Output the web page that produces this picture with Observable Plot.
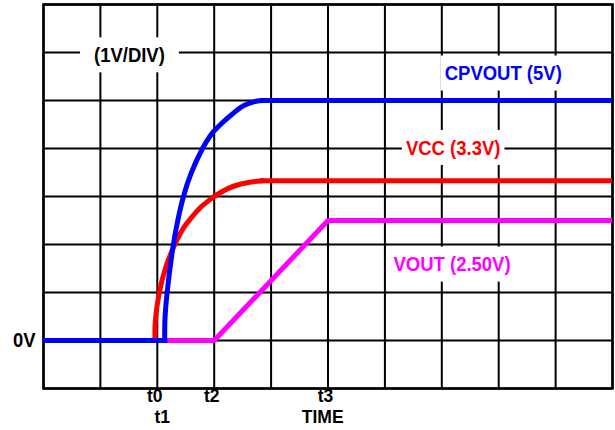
<!DOCTYPE html>
<html><head><meta charset="utf-8">
<script src="https://cdn.jsdelivr.net/npm/d3@7"></script>
<script src="https://cdn.jsdelivr.net/npm/@observablehq/plot@0.6"></script>
<style>html,body{margin:0;padding:0;background:#fff;}</style>
</head><body><div id="chart"></div>
<script>
// Grid: time in divisions, voltage in volts (1V/DIV)
const gridTimes = [0, 1, 2, 3, 4, 5, 6, 7, 8, 9, 10];
const gridVolts = [-1, 0, 1, 2, 3, 4, 5, 6, 7];

// CPVOUT (5V): flat, rise, flat
const cpvoutTime = [0, 2.13, 2.135, 2.17, 2.28, 2.36, 2.46, 2.59, 2.79, 2.96, 3.12, 3.32, 3.53, 3.76, 3.85, 10];
const cpvoutVolt = [0, 0, 0.45, 0.97, 1.98, 2.5, 3.0, 3.47, 3.99, 4.31, 4.51, 4.72, 4.90, 4.99, 5, 5];

// VCC (3.3V): flat, rise, flat
const vccTime = [0, 1.96, 1.965, 2.03, 2.15, 2.30, 2.47, 2.60, 2.75, 2.92, 3.05, 3.25, 3.47, 3.70, 3.85, 10];
const vccVolt = [0, 0, 0.4, 0.97, 1.53, 1.98, 2.36, 2.56, 2.76, 2.93, 3.04, 3.17, 3.26, 3.31, 3.33, 3.33];

// VOUT (2.50V): linear ramp t2 -> t3
const voutTime = [2.15, 3, 5, 10];
const voutVolt = [0, 0, 2.5, 2.5];

// Annotations (data units)
const annText = ["(1V/DIV)", "CPVOUT (5V)", "VCC (3.3V)", "VOUT (2.50V)"];
const annTime = [1.51, 8.08, 7.20, 7.18];
const annVolt = [5.94, 5.56, 4.01, 1.58];
const annColor = ["#000000", "#0000ff", "#ff0000", "#ff00ff"];

// Time tick labels
const tickRow1Text = ["t0", "t2", "t3"];
const tickRow1Time = [2, 3, 5];
const tickRow2Text = ["t1", "TIME"];
const tickRow2Time = [2.13, 4.95];

const toPts = (t, v) => t.map((x, i) => ({t: x, v: v[i]}));
function seriesMarks(t, v, color) {
  const pts = toPts(t, v);
  const n = pts.length;
  const common = {x: "t", y: "v", stroke: color, strokeWidth: 5, clip: true};
  return [
    Plot.line(pts.slice(0, 2), {...common, strokeLinecap: "square"}),
    Plot.line(pts.slice(1, n - 1), {...common, curve: "catmull-rom"}),
    Plot.line(pts.slice(n - 2), {...common, strokeLinecap: "square"})
  ];
}

const ann = annText.map((s, i) => ({text: s, t: annTime[i], v: annVolt[i], color: annColor[i]}));
const row1 = tickRow1Text.map((s, i) => ({text: s, t: tickRow1Time[i]}));
const row2 = tickRow2Text.map((s, i) => ({text: s, t: tickRow2Time[i]}));

const font = {fontSize: 18.5, fontWeight: "bold"};
const tickFont = {fontSize: 17.5, fontWeight: "bold"};

const plot = Plot.plot({
  width: 615,
  height: 430,
  marginLeft: 43,
  marginRight: 3,
  marginTop: 4,
  marginBottom: 42,
  style: {fontFamily: "'Liberation Sans', Arial, Helvetica, sans-serif", background: "#fff"},
  x: {domain: [0, 10], axis: null},
  y: {domain: [-1, 7], axis: null},
  marks: [
    Plot.ruleX(gridTimes, {stroke: "black", strokeWidth: 2}),
    Plot.ruleY(gridVolts, {stroke: "black", strokeWidth: 2}),
    Plot.frame({stroke: "black", strokeWidth: 2.5}),
    ...ann.map(a => Plot.text([a], {x: "t", y: "v", text: "text", fill: a.color, ...font})),
    ...seriesMarks(vccTime, vccVolt, "#ff0000"),
    Plot.line(toPts(voutTime, voutVolt), {x: "t", y: "v", stroke: "#ff00ff", strokeWidth: 5, strokeLinejoin: "miter", clip: true}),
    ...seriesMarks(cpvoutTime, cpvoutVolt, "#0000ff"),
    Plot.text(row1, {x: "t", frameAnchor: "bottom", dy: 13, dx: -2.5, text: "text", fill: "black", ...tickFont}),
    Plot.text(row2, {x: "t", frameAnchor: "bottom", dy: 34, dx: -2.5, text: "text", fill: "black", ...tickFont}),
    Plot.text(["0V"], {x: 0, y: 0, text: d => d, textAnchor: "end", dx: -8, fill: "black", ...font})
  ]
});

document.getElementById("chart").appendChild(plot);

// White boxes behind annotation labels (break the grid lines like the reference)
const padX = {"(1V/DIV)": 14};
d3.select(plot).selectAll("text").each(function() {
  const s = this.textContent;
  if (!annText.includes(s)) return;
  const bb = this.getBBox();
  const px = padX[s] ?? 4;
  const cy = bb.y + bb.height / 2;
  const r = document.createElementNS("http://www.w3.org/2000/svg", "rect");
  r.setAttribute("x", bb.x - px);
  r.setAttribute("y", cy - 17.5);
  r.setAttribute("width", bb.width + 2 * px);
  r.setAttribute("height", 35);
  r.setAttribute("fill", "#fff");
  const tr = this.getAttribute("transform");
  if (tr) r.setAttribute("transform", tr);
  this.parentNode.insertBefore(r, this);
});

// The reference lettering is slightly taller than Arial/Liberation at the same width
d3.select(plot).selectAll("text").each(function() {
  const s = this.textContent;
  if (!annText.includes(s) && s !== "0V") return;
  const tr = this.getAttribute("transform") || "";
  this.setAttribute("transform", (tr + " scale(1,1.12)").trim());
});
</script>
</body></html>
